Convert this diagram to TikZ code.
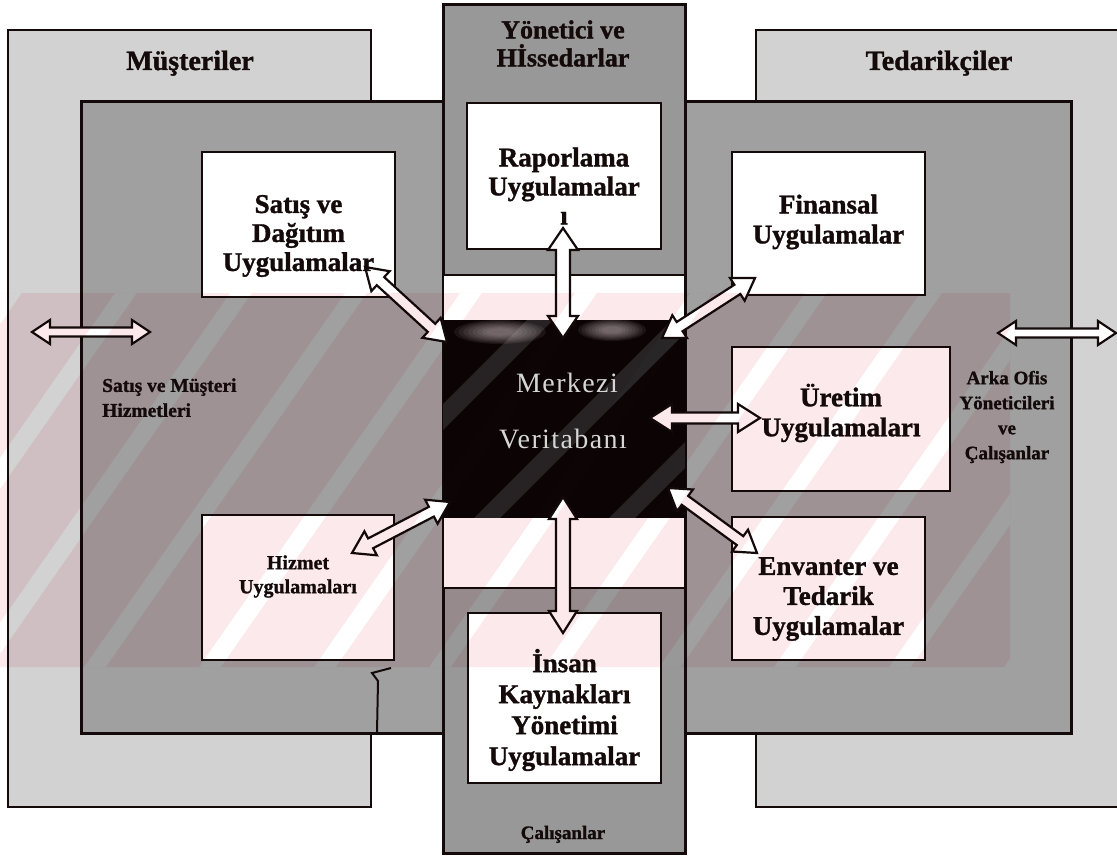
\documentclass[tikz,border=0pt]{standalone}
\usepackage{fontspec}
\setmainfont{Liberation Serif}[BoldFeatures={FakeBold=1.2}]
\usetikzlibrary{calc}

\definecolor{lightspeck}{RGB}{210,210,210}
\definecolor{midspeck}{RGB}{160,160,160}
\definecolor{colspeck}{RGB}{152,152,152}
\definecolor{dbcore}{RGB}{12,4,5}
\definecolor{dbband}{RGB}{40,38,38}
\definecolor{inkblack}{RGB}{20,10,10}
\definecolor{wmpink}{RGB}{252,233,236}
\definecolor{dbtext}{RGB}{214,214,214}

\newcommand\fsz[2]{\fontsize{#1}{#2}\selectfont}

% outlined double block arrow between two named tips
% #1,#2 tips; #3 shaft half width; #4 head half width; #5 head length
\newcommand\dblarrow[5]{%
  \path ($(#1)!#5!(#2)$) coordinate (ha) ($(#2)!#5!(#1)$) coordinate (hb);
  \draw[blockarrow] (#1) -- ($(ha)!#4!90:(#2)$) -- ($(ha)!#3!90:(#2)$)
    -- ($(hb)!#3!-90:(#1)$) -- ($(hb)!#4!-90:(#1)$) -- (#2)
    -- ($(hb)!#4!90:(#1)$) -- ($(hb)!#3!90:(#1)$)
    -- ($(ha)!#3!-90:(#2)$) -- ($(ha)!#4!-90:(#2)$) -- cycle;
}

\tikzset{
  zone/.style={draw=inkblack, line width=2.6pt, inner sep=0pt, outer sep=0pt},
  outerzone/.style={zone, fill=lightspeck},
  innerzone/.style={zone, fill=midspeck, line width=3pt},
  columnzone/.style={zone, fill=colspeck, line width=3pt},
  appbox/.style={zone, fill=white, line width=2.8pt},
  blockarrow/.style={draw=inkblack, line width=2.2pt, fill=white, line join=miter},
  apptext/.style={align=center, inner sep=0pt, text=inkblack, font=\bfseries\fsz{27}{29}},
  sidetext/.style={inner sep=0pt, text=inkblack, font=\bfseries\fsz{19}{24}},
  titletext/.style={inner sep=0pt, text=inkblack, font=\bfseries\fsz{28}{30}},
  dbword/.style={inner sep=0pt, text=dbtext, font=\fsz{28}{30}\addfontfeature{LetterSpace=5}},
}

\begin{document}
\begin{tikzpicture}[x=1pt, y=-1pt]
\useasboundingbox (0,0) rectangle (1117,856);
\fill[white] (0,0) rectangle (1117,856);

% outer stakeholder zones
\node[outerzone, minimum width=363pt, minimum height=777pt] (mus) at (189.5,418.5) {};
\node[outerzone, minimum width=384pt, minimum height=777pt] (ted) at (948,418.5) {};

% enterprise system zone
\node[innerzone, minimum width=990pt, minimum height=631pt] (sys) at (576,417.5) {};

% vertical column: management on top, employees below
\node[columnzone, minimum width=242pt, minimum height=848pt] (col) at (564,429) {};

% central hub with the database block
\node[zone, fill=white, line width=2pt, minimum width=242pt, minimum height=313pt] (hub) at (564,431.5) {};
\node[zone, fill=dbcore, line width=1pt, draw=dbcore, minimum width=242pt, minimum height=197pt] (db) at (564,418.5) {};
\begin{scope}
  \clip (443,320) rectangle (685,517);
  \foreach \c in {860,1005,1140}
    \fill[dbband] (\c-13-540,540) -- (\c+13-540,540) -- (\c+13-300,300) -- (\c-13-300,300) -- cycle;
  \foreach \s in {1,0.9,0.8,0.7,0.6,0.5,0.4,0.3}{
    \fill[white, opacity=0.07] (500,332) ellipse [x radius=46pt*\s, y radius=12pt*\s];
    \fill[white, opacity=0.07] (612,330) ellipse [x radius=34pt*\s, y radius=11pt*\s];
  }
\end{scope}

% application boxes
\node[appbox, minimum width=193pt, minimum height=145pt] (sat) at (298.5,224.5) {};
\node[appbox, minimum width=194pt, minimum height=146pt] (rap) at (564,176) {};
\node[appbox, minimum width=193pt, minimum height=143pt] (fin) at (828.5,223.5) {};
\node[appbox, minimum width=218pt, minimum height=144pt] (ure) at (841,419) {};
\node[appbox, minimum width=193pt, minimum height=143pt] (env) at (828.5,588.5) {};
\node[appbox, minimum width=192pt, minimum height=145pt] (hiz) at (298,587.5) {};
\node[appbox, minimum width=193pt, minimum height=170pt] (ins) at (564.5,698) {};

% stray edge of the customer zone
\draw[inkblack, line width=2pt] (391,668) -- (372,673) -- (378,681) -- (377,733);

% arrow tips
\coordinate (satA) at (365,267);  \coordinate (satB) at (447,342);
\coordinate (rapA) at (563,228);  \coordinate (rapB) at (563,338);
\coordinate (finA) at (755,278);  \coordinate (finB) at (662,338);
\coordinate (ureA) at (650,418);  \coordinate (ureB) at (760,418);
\coordinate (envA) at (668,488);  \coordinate (envB) at (757,553);
\coordinate (hizA) at (450,502);  \coordinate (hizB) at (352,553);
\coordinate (insA) at (563,497);  \coordinate (insB) at (563,633);
\coordinate (musA) at (32,332);   \coordinate (musB) at (150,332);
\coordinate (tedA) at (998,333);  \coordinate (tedB) at (1116,333);

\dblarrow{satA}{satB}{5.5pt}{13.5pt}{21pt}
\dblarrow{rapA}{rapB}{7pt}{15pt}{22pt}
\dblarrow{finA}{finB}{5.5pt}{13.5pt}{21pt}
\dblarrow{ureA}{ureB}{5.5pt}{14pt}{22pt}
\dblarrow{envA}{envB}{5.5pt}{13.5pt}{21pt}
\dblarrow{hizA}{hizB}{5.5pt}{13.5pt}{21pt}
\dblarrow{insA}{insB}{7pt}{14pt}{22pt}
\dblarrow{musA}{musB}{4.5pt}{12pt}{18pt}
\dblarrow{tedA}{tedB}{4.5pt}{12pt}{18pt}

% pink striped tint across the middle band
\begin{scope}
  \clip (0,293) rectangle (1010,667);
  \fill[wmpink, blend mode=multiply, even odd rule] (0,293) rectangle (1010,667)
    \foreach \k in {0,...,11} { (-261+115*\k,667) -- ++(22,0) -- ++(261,-374) -- ++(-22,0) -- cycle };
\end{scope}

% titles
\node[titletext, anchor=base] (musT) at (190,70) {Müşteriler};
\node[titletext, anchor=base] (tedT) at (939,70) {Tedarikçiler};
\node[align=center, inner sep=0pt, text=inkblack, font=\bfseries\fsz{26}{28}] (colT) at (563,43.5) {Yönetici ve\\Hİssedarlar};
\node[sidetext, anchor=base] (colB) at (563,839) {Çalışanlar};

% application texts
\node[apptext] (satT) at (298.5,236) {Satış ve\\Dağıtım\\Uygulamalar};
\node[apptext] (rapT) at (564,186) {Raporlama\\Uygulamalar\\ı};
\node[apptext, font=\bfseries\fsz{27}{30}] (finT) at (828.5,222) {Finansal\\Uygulamalar};
\node[apptext, font=\bfseries\fsz{27}{30}] (ureT) at (841,413) {Üretim\\Uygulamaları};
\node[apptext, font=\bfseries\fsz{27}{30}] (envT) at (828.5,599) {Envanter ve\\Tedarik\\Uygulamalar};
\node[apptext, font=\bfseries\fsz{27}{31}] (insT) at (564.5,710) {İnsan\\Kaynakları\\Yönetimi\\Uygulamalar};
\node[apptext, font=\bfseries\fsz{20}{24}] (hizT) at (298,576.5) {Hizmet\\Uygulamaları};

% side labels
\node[sidetext, align=left, anchor=west, font=\bfseries\fsz{19.5}{25}] (musL) at (102,397.7) {Satış ve Müşteri\\Hizmetleri};
\node[sidetext, align=center, font=\bfseries\fsz{19}{25}] (tedL) at (1007,417) {Arka Ofis\\Yöneticileri\\ve\\Çalışanlar};

% database words
\node[dbword, anchor=base] (dbT1) at (567,392) {Merkezi};
\node[dbword, anchor=base] (dbT2) at (563,448) {Veritabanı};
\end{tikzpicture}
\end{document}
